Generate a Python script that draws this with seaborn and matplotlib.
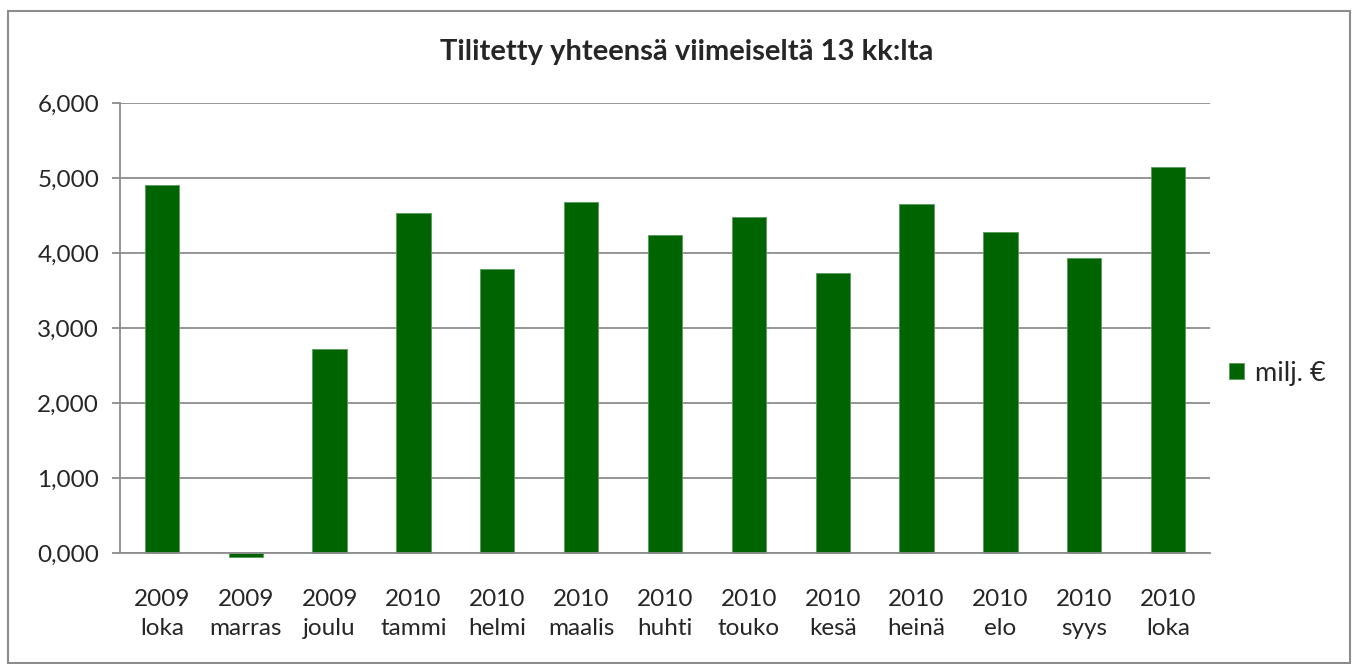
import matplotlib
matplotlib.use("Agg")
import matplotlib.pyplot as plt
import seaborn as sns
from matplotlib.patches import Rectangle
from matplotlib.ticker import FuncFormatter

# Kuukaudet ja tilitetyt summat (milj. €)
vuodet = ['2009', '2009', '2009', '2010', '2010', '2010', '2010',
          '2010', '2010', '2010', '2010', '2010', '2010']
kuukaudet = ['loka', 'marras', 'joulu', 'tammi', 'helmi', 'maalis', 'huhti',
             'touko', 'kesä', 'heinä', 'elo', 'syys', 'loka']
summat = [4.91, -0.05, 2.72, 4.54, 3.79, 4.68, 4.24,
          4.48, 3.74, 4.66, 4.28, 3.94, 5.15]

labels = [f"{v}\n{k}" for v, k in zip(vuodet, kuukaudet)]

sns.set_theme(style="white")
plt.rcParams['font.family'] = ['Lato', 'DejaVu Sans']

fig = plt.figure(figsize=(13.56, 6.64), dpi=100)
ax = fig.add_axes([120 / 1356, 1 - 553 / 664, 1090 / 1356, 450 / 664])

sns.barplot(x=list(range(len(labels))), y=summat, color='#006400', width=0.41,
            saturation=1, ax=ax, label='milj. €', edgecolor='#5a9a5a', linewidth=0.6)
for p in ax.patches:
    p.set_clip_on(False)

ax.set_xlim(-0.5, len(labels) - 0.5)
ax.set_ylim(0, 6)
ax.set_yticks([0, 1, 2, 3, 4, 5, 6])
ax.yaxis.set_major_formatter(FuncFormatter(lambda v, _: f"{v:.3f}".replace('.', ',')))
ax.yaxis.grid(True, color='#8c8c8c', linewidth=1.3)
ax.set_axisbelow(True)

ax.set_xticks(range(len(labels)))
ax.set_xticklabels(labels, fontsize=17.5, linespacing=1.45)
ax.set_xticks([i - 0.5 for i in range(len(labels) + 1)], minor=True)
ax.tick_params(axis='x', which='major', length=0, pad=26)
ax.tick_params(axis='x', which='minor', length=8, width=1.3, color='#8c8c8c', direction='out')
ax.tick_params(axis='y', labelsize=17.5, length=6, width=1.3, color='#8c8c8c',
               direction='out', left=True, pad=9)

for side in ['top', 'right']:
    ax.spines[side].set_visible(False)
for side in ['left', 'bottom']:
    ax.spines[side].set_color('#8c8c8c')
    ax.spines[side].set_linewidth(1.3)

ax.set_xlabel('')
ax.set_ylabel('')

fig.text(687 / 1356, 1 - 52 / 664, 'Tilitetty yhteensä viimeiseltä 13 kk:lta',
         ha='center', va='center', fontsize=21, fontweight='bold')

ax.legend(loc='center left', bbox_to_anchor=(0.995, 0.40), frameon=False,
          fontsize=19.5, handlelength=0.55, handleheight=0.55, handletextpad=0.4)

fig.patches.append(Rectangle((7.5 / 1356, 1 / 664), 1342 / 1356, 652 / 664,
                             transform=fig.transFigure, fill=False,
                             edgecolor='#8c8c8c', linewidth=1.5))

fig.savefig('out.png', dpi=100)
